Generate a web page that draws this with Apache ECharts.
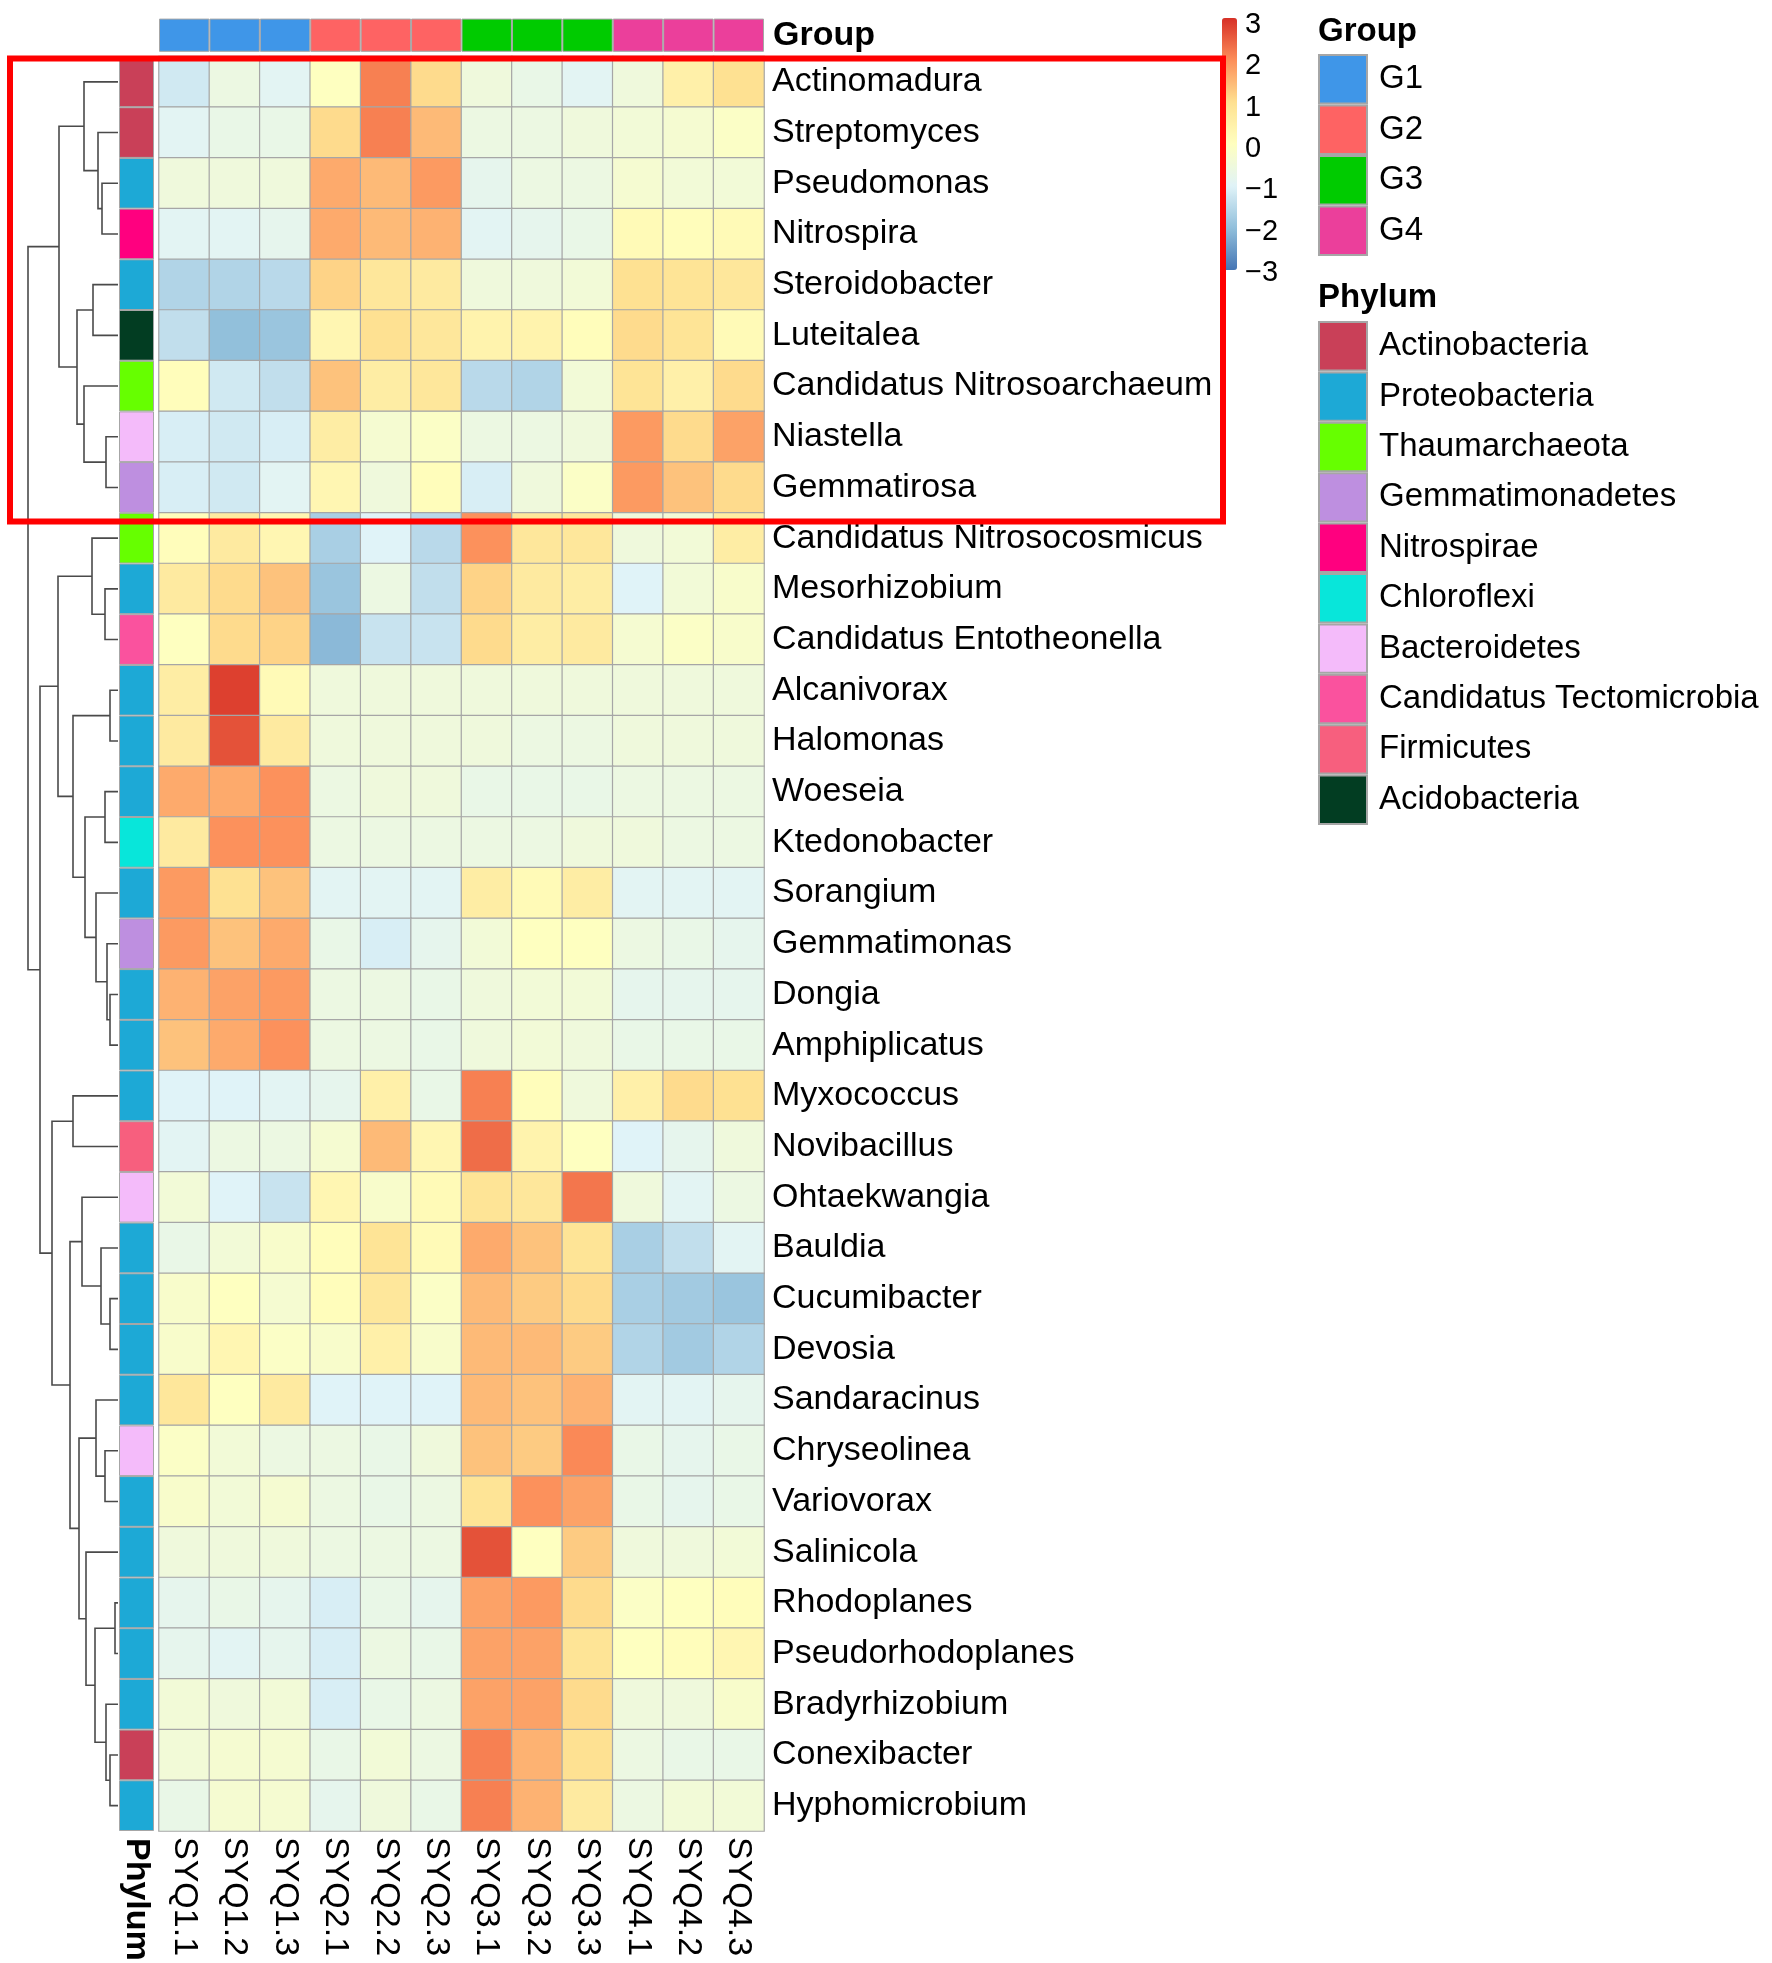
<!DOCTYPE html>
<html>
<head>
<meta charset="utf-8">
<script src="https://cdn.jsdelivr.net/npm/echarts@6/dist/echarts.min.js"></script>
<style>
  html, body { margin: 0; padding: 0; background: #fff; }
  #chart { width: 1772px; height: 1963px; }
</style>
</head>
<body>
<div id="chart"></div>
<script>
// ---- data ---------------------------------------------------------------
var samples = ['SYQ1.1','SYQ1.2','SYQ1.3','SYQ2.1','SYQ2.2','SYQ2.3','SYQ3.1','SYQ3.2','SYQ3.3','SYQ4.1','SYQ4.2','SYQ4.3'];
var sampleGroup = ['G1','G1','G1','G2','G2','G2','G3','G3','G3','G4','G4','G4'];
var groups = ['G1','G2','G3','G4'];
var groupColors = ['#3F96E8','#FE6363','#00CB00','#EB3F9B'];

var genera = ['Actinomadura','Streptomyces','Pseudomonas','Nitrospira','Steroidobacter','Luteitalea',
  'Candidatus Nitrosoarchaeum','Niastella','Gemmatirosa','Candidatus Nitrosocosmicus','Mesorhizobium',
  'Candidatus Entotheonella','Alcanivorax','Halomonas','Woeseia','Ktedonobacter','Sorangium','Gemmatimonas',
  'Dongia','Amphiplicatus','Myxococcus','Novibacillus','Ohtaekwangia','Bauldia','Cucumibacter','Devosia',
  'Sandaracinus','Chryseolinea','Variovorax','Salinicola','Rhodoplanes','Pseudorhodoplanes','Bradyrhizobium',
  'Conexibacter','Hyphomicrobium'];

var phyla = ['Actinobacteria','Proteobacteria','Thaumarchaeota','Gemmatimonadetes','Nitrospirae',
  'Chloroflexi','Bacteroidetes','Candidatus Tectomicrobia','Firmicutes','Acidobacteria'];
var phylumColors = ['#C94058','#1DA9D6','#66FF00','#BE8FE0','#FF007F','#08E6DA','#F4BBFA','#FA529E','#F75F7E','#023D22'];
var generaPhylum = ['Actinobacteria','Actinobacteria','Proteobacteria','Nitrospirae','Proteobacteria','Acidobacteria',
  'Thaumarchaeota','Bacteroidetes','Gemmatimonadetes','Thaumarchaeota','Proteobacteria',
  'Candidatus Tectomicrobia','Proteobacteria','Proteobacteria','Proteobacteria','Chloroflexi','Proteobacteria',
  'Gemmatimonadetes','Proteobacteria','Proteobacteria','Proteobacteria','Firmicutes','Bacteroidetes',
  'Proteobacteria','Proteobacteria','Proteobacteria','Proteobacteria','Bacteroidetes','Proteobacteria',
  'Proteobacteria','Proteobacteria','Proteobacteria','Proteobacteria','Actinobacteria','Proteobacteria'];

// z-scores, one row per genus, columns in sample order
var zscores = [
  [-1.1,-0.5,-0.8, 0.1, 2.3, 1.2,-0.4,-0.6,-0.8,-0.4, 0.6, 1.1],
  [-0.8,-0.6,-0.6, 1.2, 2.3, 1.6,-0.5,-0.5,-0.4,-0.3,-0.2, 0.0],
  [-0.4,-0.4,-0.4, 1.8, 1.6, 2.0,-0.7,-0.5,-0.5,-0.2,-0.3,-0.3],
  [-0.8,-0.8,-0.7, 1.8, 1.6, 1.7,-0.8,-0.7,-0.6, 0.3, 0.2, 0.3],
  [-1.5,-1.5,-1.4, 1.3, 0.9, 0.8,-0.4,-0.4,-0.3, 1.1, 1.0, 0.9],
  [-1.3,-1.9,-1.8, 0.4, 1.1, 0.9, 0.5, 0.5, 0.2, 1.2, 1.0, 0.3],
  [ 0.2,-1.1,-1.3, 1.5, 0.7, 0.9,-1.4,-1.5,-0.3, 1.0, 0.6, 1.2],
  [-1.0,-1.1,-1.0, 0.7,-0.2, 0.0,-0.5,-0.5,-0.4, 2.0, 1.2, 1.9],
  [-1.0,-1.1,-0.8, 0.4,-0.4, 0.2,-1.0,-0.4, 0.0, 2.0, 1.5, 1.2],
  [ 0.2, 0.8, 0.4,-1.6,-0.9,-1.4, 2.1, 0.9, 0.9,-0.4,-0.3, 0.7],
  [ 0.8, 1.2, 1.5,-1.8,-0.5,-1.3, 1.3, 0.8, 0.7,-0.9,-0.3,-0.1],
  [ 0.1, 1.2, 1.3,-2.0,-1.2,-1.2, 1.2, 0.7, 0.8,-0.2, 0.0,-0.1],
  [ 0.7, 3.0, 0.3,-0.4,-0.4,-0.4,-0.4,-0.4,-0.4,-0.4,-0.4,-0.4],
  [ 0.8, 2.8, 0.8,-0.4,-0.4,-0.4,-0.4,-0.5,-0.5,-0.4,-0.4,-0.4],
  [ 1.8, 1.8, 2.1,-0.5,-0.4,-0.4,-0.6,-0.6,-0.6,-0.5,-0.5,-0.5],
  [ 0.8, 2.1, 2.1,-0.5,-0.5,-0.5,-0.5,-0.5,-0.4,-0.4,-0.5,-0.5],
  [ 2.0, 1.1, 1.5,-0.8,-0.8,-0.8, 0.7, 0.3, 0.7,-0.8,-0.8,-0.8],
  [ 2.0, 1.5, 1.8,-0.6,-1.0,-0.7,-0.3, 0.1, 0.1,-0.5,-0.6,-0.7],
  [ 1.7, 1.9, 2.0,-0.5,-0.5,-0.6,-0.4,-0.3,-0.3,-0.7,-0.7,-0.7],
  [ 1.5, 1.8, 2.1,-0.5,-0.5,-0.6,-0.4,-0.3,-0.4,-0.6,-0.6,-0.6],
  [-0.9,-0.9,-0.8,-0.7, 0.6,-0.6, 2.3, 0.2,-0.4, 0.6, 1.2, 1.1],
  [-0.8,-0.5,-0.5,-0.2, 1.6, 0.4, 2.5, 0.5, 0.1,-0.9,-0.7,-0.4],
  [-0.3,-0.9,-1.2, 0.4,-0.1, 0.3, 1.0, 0.9, 2.4,-0.4,-0.8,-0.5],
  [-0.6,-0.3,-0.1, 0.2, 1.0, 0.3, 1.8, 1.5, 1.0,-1.6,-1.3,-0.8],
  [-0.1, 0.1,-0.2, 0.2, 0.9, 0.0, 1.6, 1.4, 1.2,-1.6,-1.7,-1.8],
  [-0.1, 0.4, 0.0,-0.1, 0.6,-0.1, 1.6, 1.6, 1.4,-1.5,-1.7,-1.5],
  [ 0.9, 0.1, 0.8,-0.9,-0.9,-0.9, 1.6, 1.5, 1.7,-0.8,-0.8,-0.7],
  [ 0.0,-0.3,-0.5,-0.5,-0.6,-0.4, 1.5, 1.4, 2.2,-0.6,-0.7,-0.6],
  [-0.1,-0.3,-0.2,-0.5,-0.6,-0.5, 1.0, 2.1, 1.9,-0.6,-0.7,-0.6],
  [-0.4,-0.4,-0.4,-0.5,-0.5,-0.5, 2.8, 0.1, 1.4,-0.4,-0.4,-0.3],
  [-0.7,-0.6,-0.7,-1.0,-0.6,-0.7, 1.9, 2.0, 1.2, 0.0, 0.1, 0.2],
  [-0.7,-0.8,-0.7,-1.0,-0.5,-0.6, 1.9, 1.9, 1.0, 0.1, 0.2, 0.4],
  [-0.3,-0.4,-0.3,-1.0,-0.6,-0.5, 1.9, 1.9, 1.2,-0.4,-0.4,-0.1],
  [-0.3,-0.2,-0.2,-0.6,-0.3,-0.5, 2.3, 1.7, 1.1,-0.5,-0.6,-0.6],
  [-0.6,-0.2,-0.2,-0.7,-0.4,-0.6, 2.3, 1.7, 0.8,-0.5,-0.3,-0.3]
];

// row dendrogram, hclust style: negative = leaf -(row+1), positive = earlier merge (1-based)
var merges = [
  [-3,-4],[-2,1],[-1,2],[-5,-6],[-8,-9],[-7,5],[4,6],[3,7],
  [-11,-12],[-10,9],[-13,-14],[-15,-16],[-19,-20],[-18,13],[-17,14],[12,15],[11,16],[10,17],
  [-21,-22],[-25,-26],[-24,20],[-23,21],[-28,-29],[-27,23],[-31,-32],[-34,-35],[-33,26],
  [25,27],[-30,28],[24,29],[22,30],[19,31],[18,32],[8,33]
];
var mergeHeights = [16,20,34,25,12,34,41,59, 13,26,8,13,8,11,22,33,45,60,
  45,8,17,36,13,22,3,8,12, 23,32,39,48,66,78,90];

var colorTicks = [-3,-2,-1,0,1,2,3];
var zRange = [-2.93, 3.17];
var palette = ['#4575B4','#91BFDB','#E0F3F8','#FFFFBF','#FEE090','#FC8D59','#D73027'];

// ---- build ---------------------------------------------------------------
var FONT = '"Liberation Sans", Arial, Helvetica, sans-serif';
var GRID_TOP = 56.5, GRID_H = 1774.5, GRID_L = 159, GRID_W = 605;
var BORDER = '#A6A6A6';

var heatData = [];
zscores.forEach(function(row, r){
  row.forEach(function(v, c){ heatData.push([c, r, v]); });
});

// dendrogram segments
var nodeY = [], nodeH = [];
function childPos(id){
  if (id < 0) return [-id - 1, 0];
  return [nodeY[id - 1], nodeH[id - 1]];
}
var dendroLines = [];
merges.forEach(function(m, k){
  var a = childPos(m[0]), b = childPos(m[1]), h = mergeHeights[k];
  nodeY.push((a[0] + b[0]) / 2);
  nodeH.push(h);
  dendroLines.push({coords: [[a[1], a[0]], [h, a[0]], [h, b[0]], [b[1], b[0]]]});
});

var series = [];
series.push({
  type: 'heatmap', xAxisIndex: 0, yAxisIndex: 0, data: heatData,
  itemStyle: {borderColor: BORDER, borderWidth: 1.2},
  emphasis: {disabled: true}, silent: true
});
groups.forEach(function(g, i){
  series.push({
    name: g, type: 'bar', xAxisIndex: 1, yAxisIndex: 1,
    barWidth: '100%', barGap: '-100%', silent: true,
    itemStyle: {color: groupColors[i], borderColor: BORDER, borderWidth: 1},
    data: sampleGroup.map(function(s){ return s === g ? 1 : '-'; })
  });
});
phyla.forEach(function(p, i){
  series.push({
    name: p, type: 'bar', xAxisIndex: 2, yAxisIndex: 3,
    barWidth: '100%', barGap: '-100%', silent: true,
    itemStyle: {color: phylumColors[i], borderColor: BORDER, borderWidth: 1},
    data: generaPhylum.map(function(s){ return s === p ? 1 : '-'; })
  });
});
series.push({
  type: 'lines', coordinateSystem: 'cartesian2d', xAxisIndex: 3, yAxisIndex: 4,
  polyline: true, silent: true, data: dendroLines,
  lineStyle: {color: '#4a4a4a', width: 1.6, opacity: 1}
});

var hidden = {show: false};
var chart = echarts.init(document.getElementById('chart'), null, {renderer: 'canvas'});
chart.setOption({
  animation: false,
  backgroundColor: '#fff',
  textStyle: {fontFamily: FONT},
  title: [
    {text: 'Group', left: 1318, top: 15, padding: 0,
     textStyle: {fontFamily: FONT, fontSize: 33, fontWeight: 'bold', color: '#000'}},
    {text: 'Phylum', left: 1318, top: 281, padding: 0,
     textStyle: {fontFamily: FONT, fontSize: 33, fontWeight: 'bold', color: '#000'}}
  ],
  legend: [
    {data: groups, orient: 'vertical', left: 1318, top: 54, padding: 0,
     icon: 'rect', itemWidth: 48, itemHeight: 48.5, itemGap: 0, selectedMode: false,
     textStyle: {fontFamily: FONT, fontSize: 33, color: '#000', padding: [0, 0, 0, 7]}},
    {data: phyla, orient: 'vertical', left: 1318, top: 321, padding: 0,
     icon: 'rect', itemWidth: 48, itemHeight: 48.4, itemGap: 0, selectedMode: false,
     textStyle: {fontFamily: FONT, fontSize: 33, color: '#000', padding: [0, 0, 0, 7]}}
  ],
  visualMap: [{
    type: 'continuous', seriesIndex: 0, min: zRange[0], max: zRange[1],
    inRange: {color: palette}, calculable: false, hoverLink: false,
    left: 1222, top: 18, itemWidth: 15, itemHeight: 252, padding: 0, text: null
  }],
  grid: [
    {left: GRID_L, top: GRID_TOP, width: GRID_W, height: GRID_H, outerBoundsMode: 'none'},
    {left: GRID_L, top: 18.6, width: GRID_W, height: 33.2, outerBoundsMode: 'none'},
    {left: 119, top: GRID_TOP, width: 35, height: GRID_H, outerBoundsMode: 'none'},
    {left: 26, top: GRID_TOP, width: 92, height: GRID_H, outerBoundsMode: 'none'},
    {left: 1237, top: 20.9, width: 1, height: 252.1, outerBoundsMode: 'none'}
  ],
  xAxis: [
    {type: 'category', gridIndex: 0, data: samples, position: 'bottom',
     axisLine: hidden, axisTick: hidden, splitLine: hidden,
     axisLabel: {rotate: -90, margin: 6, fontSize: 34, color: '#000', fontFamily: FONT, interval: 0}},
    {type: 'category', gridIndex: 1, data: samples, show: false},
    {type: 'value', gridIndex: 2, min: 0, max: 1, show: false},
    {type: 'value', gridIndex: 3, min: 0, max: 92, inverse: true, show: false},
    {type: 'value', gridIndex: 4, min: 0, max: 1, show: false}
  ],
  yAxis: [
    {type: 'category', gridIndex: 0, data: genera, inverse: true, position: 'right',
     axisLine: hidden, axisTick: hidden, splitLine: hidden,
     axisLabel: {margin: 8, fontSize: 34, color: '#000', fontFamily: FONT, interval: 0,
                 padding: [12, 0, 0, 0]}},
    {type: 'value', gridIndex: 1, min: 0, max: 1, show: false},
    {type: 'category', gridIndex: 1, data: ['Group'], position: 'right',
     axisLine: hidden, axisTick: hidden, splitLine: hidden,
     axisLabel: {margin: 9, fontSize: 34, fontWeight: 'bold', color: '#000', fontFamily: FONT,
                 padding: [10, 0, 0, 0]}},
    {type: 'category', gridIndex: 2, data: genera, inverse: true, show: false},
    {type: 'value', gridIndex: 3, min: -0.5, max: genera.length - 0.5, inverse: true, show: false},
    {type: 'value', gridIndex: 4, min: colorTicks[0], max: 3.1, interval: 1, position: 'right',
     axisLine: hidden, axisTick: hidden, splitLine: hidden,
     axisLabel: {margin: 7, fontSize: 29, color: '#000', fontFamily: FONT,
       formatter: function(v){
         if (colorTicks.indexOf(Math.round(v * 10) / 10) < 0) return '';
         return v < 0 ? '\u2212' + Math.abs(v) : String(v);
       }}}
  ],
  graphic: [
    {type: 'text', x: 136, y: 1838, rotation: -Math.PI / 2, silent: true,
     style: {text: 'Phylum', font: 'bold 34px ' + FONT, fill: '#000',
             textAlign: 'left', textVerticalAlign: 'middle'}},
    {type: 'rect', z: 100, silent: true,
     shape: {x: 10, y: 58.5, width: 1213, height: 463},
     style: {fill: null, stroke: '#FF0000', lineWidth: 6}}
  ],
  series: series
});
</script>
</body>
</html>
